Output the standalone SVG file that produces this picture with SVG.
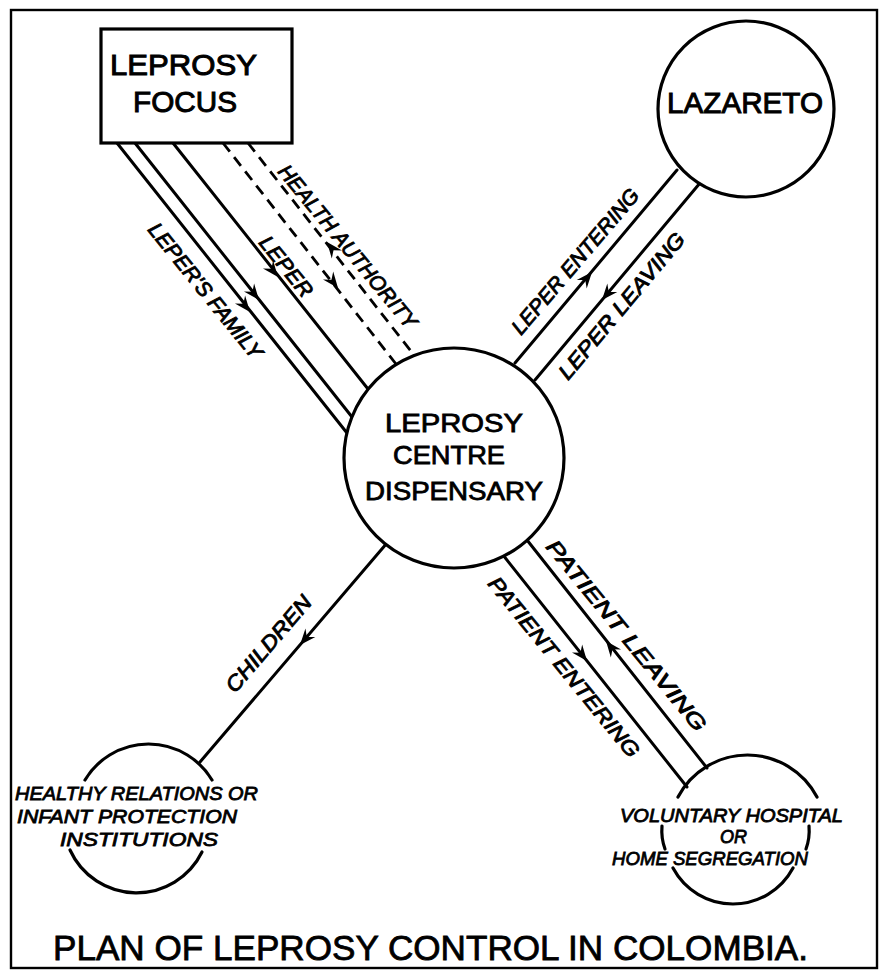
<svg xmlns="http://www.w3.org/2000/svg" width="879" height="972" viewBox="0 0 879 972">
<style>
.ln{stroke:#000;stroke-width:3;fill:none;stroke-linecap:round}
.ds{stroke:#000;stroke-width:2.8;fill:none;stroke-dasharray:11 7}
.nd{stroke:#000;stroke-width:3.2;fill:#fff}
.arc{stroke:#000;stroke-width:3.2;fill:none;stroke-linecap:round}
.big{font-family:"Liberation Sans",Arial,sans-serif;font-size:30px;fill:#000;stroke:#000;stroke-width:1}
.mid{font-family:"Liberation Sans",Arial,sans-serif;font-size:25px;fill:#000;stroke:#000;stroke-width:0.8}
.lab{font-family:"Liberation Sans",Arial,sans-serif;font-size:21px;font-style:italic;fill:#000;stroke:#000;stroke-width:0.9}
.sm{font-family:"Liberation Sans",Arial,sans-serif;font-size:18.5px;font-style:italic;fill:#000;stroke:#000;stroke-width:0.8}
.ttl{font-family:"Liberation Sans",Arial,sans-serif;font-size:35px;fill:#000;stroke:#000;stroke-width:0.8}
</style>
<defs>
<path id="ah" d="M0,0 L-16,-6.5 L-10.5,0 L-16,6.5 Z" fill="#000"/>
</defs>
<rect width="879" height="972" fill="#fff"/>
<rect x="11" y="10" width="866" height="958" fill="none" stroke="#000" stroke-width="2.4"/>

<g id="connectors">
  <line class="ln" x1="117" y1="143" x2="347" y2="433"/>
  <line class="ln" x1="135" y1="143" x2="352" y2="417"/>
  <line class="ln" x1="173" y1="143" x2="368" y2="389"/>
  <line class="ds" x1="223" y1="143" x2="396" y2="364"/>
  <line class="ds" x1="248" y1="143" x2="414" y2="355"/>
  <use href="#ah" transform="translate(250,312) rotate(51.4)"/>
  <use href="#ah" transform="translate(259,300) rotate(51.4)"/>
  <use href="#ah" transform="translate(278,277) rotate(51.4)"/>
  <use href="#ah" transform="translate(338,288) rotate(51.8)"/>
  <use href="#ah" transform="translate(327,242) rotate(231.8)"/>
  <line class="ln" x1="677" y1="170" x2="515" y2="363"/>
  <line class="ln" x1="700" y1="183" x2="535" y2="380"/>
  <use href="#ah" transform="translate(592,272) rotate(-50)"/>
  <use href="#ah" transform="translate(602,300) rotate(130)"/>
  <line class="ln" x1="387" y1="543" x2="200" y2="762" stroke-width="3.4"/>
  <use href="#ah" transform="translate(300,645) rotate(130.5)"/>
  <line class="ln" x1="503" y1="555" x2="687" y2="787"/>
  <line class="ln" x1="527" y1="540" x2="707" y2="768"/>
  <use href="#ah" transform="translate(587,661) rotate(51.6)"/>
  <use href="#ah" transform="translate(606,641) rotate(231.6)"/>

  <text class="lab" transform="translate(147,230) rotate(51)" textLength="168" lengthAdjust="spacingAndGlyphs">LEPER'S FAMILY</text>
  <text class="lab" font-size="22" transform="translate(258,243) rotate(51)" textLength="72" lengthAdjust="spacingAndGlyphs">LEPER</text>
  <text class="lab" transform="translate(277,172) rotate(50.5)" textLength="205" lengthAdjust="spacingAndGlyphs">HEALTH AUTHORITY</text>
  <text class="lab" transform="translate(521,336) rotate(-49.5)" textLength="184" lengthAdjust="spacingAndGlyphs">LEPER ENTERING</text>
  <text class="lab" transform="translate(568,381) rotate(-50)" textLength="184" lengthAdjust="spacingAndGlyphs">LEPER LEAVING</text>
  <text class="lab" transform="translate(235,694) rotate(-49.5)" textLength="120" lengthAdjust="spacingAndGlyphs">CHILDREN</text>
  <text class="lab" transform="translate(487,584) rotate(50.8)" textLength="226" lengthAdjust="spacingAndGlyphs">PATIENT ENTERING</text>
  <text class="lab" transform="translate(545,547) rotate(50.8)" textLength="240" lengthAdjust="spacingAndGlyphs">PATIENT LEAVING</text>
</g>

<g id="focus">
  <rect class="nd" x="101" y="29" width="191" height="114"/>
  <text class="big" x="110" y="75" textLength="147" lengthAdjust="spacingAndGlyphs">LEPROSY</text>
  <text class="big" x="133" y="112" textLength="104" lengthAdjust="spacingAndGlyphs">FOCUS</text>
</g>

<g id="lazareto">
  <circle class="nd" cx="746" cy="109" r="88"/>
  <text class="big" x="667" y="113" font-size="29" textLength="156" lengthAdjust="spacingAndGlyphs">LAZARETO</text>
</g>

<g id="centre">
  <circle class="nd" cx="454" cy="458" r="110"/>
  <text class="mid" x="385" y="432" textLength="138" lengthAdjust="spacingAndGlyphs">LEPROSY</text>
  <text class="mid" x="393" y="464" textLength="112" lengthAdjust="spacingAndGlyphs">CENTRE</text>
  <text class="mid" x="365" y="500" textLength="178" lengthAdjust="spacingAndGlyphs">DISPENSARY</text>
</g>

<g id="healthy">
  <path class="arc" d="M85,780 A74,74 0 0 1 212,780"/>
  <path class="arc" d="M70,850 A73,73 0 0 0 202,852"/>
  <text class="sm" x="15" y="800" textLength="243" lengthAdjust="spacingAndGlyphs">HEALTHY RELATIONS OR</text>
  <text class="sm" x="17" y="823" textLength="220" lengthAdjust="spacingAndGlyphs">INFANT PROTECTION</text>
  <text class="sm" x="60" y="846" textLength="158" lengthAdjust="spacingAndGlyphs">INSTITUTIONS</text>
</g>

<g id="hospital">
  <path class="arc" d="M678,797 A78.5,78.5 0 0 1 817,797"/>
  <path class="arc" d="M662,826 Q661,838 665,849"/>
  <path class="arc" d="M809,826 Q810,838 806,849"/>
  <path class="arc" d="M673,868 A68,68 0 0 0 793,868"/>
  <text class="sm" x="620" y="822" textLength="223" lengthAdjust="spacingAndGlyphs">VOLUNTARY HOSPITAL</text>
  <text class="sm" x="720" y="843" textLength="27" lengthAdjust="spacingAndGlyphs">OR</text>
  <text class="sm" x="612" y="865" textLength="196" lengthAdjust="spacingAndGlyphs">HOME SEGREGATION</text>
</g>

<g id="title">
  <text class="ttl" x="53" y="960" textLength="755" lengthAdjust="spacingAndGlyphs">PLAN OF LEPROSY CONTROL IN COLOMBIA.</text>
</g>
</svg>
